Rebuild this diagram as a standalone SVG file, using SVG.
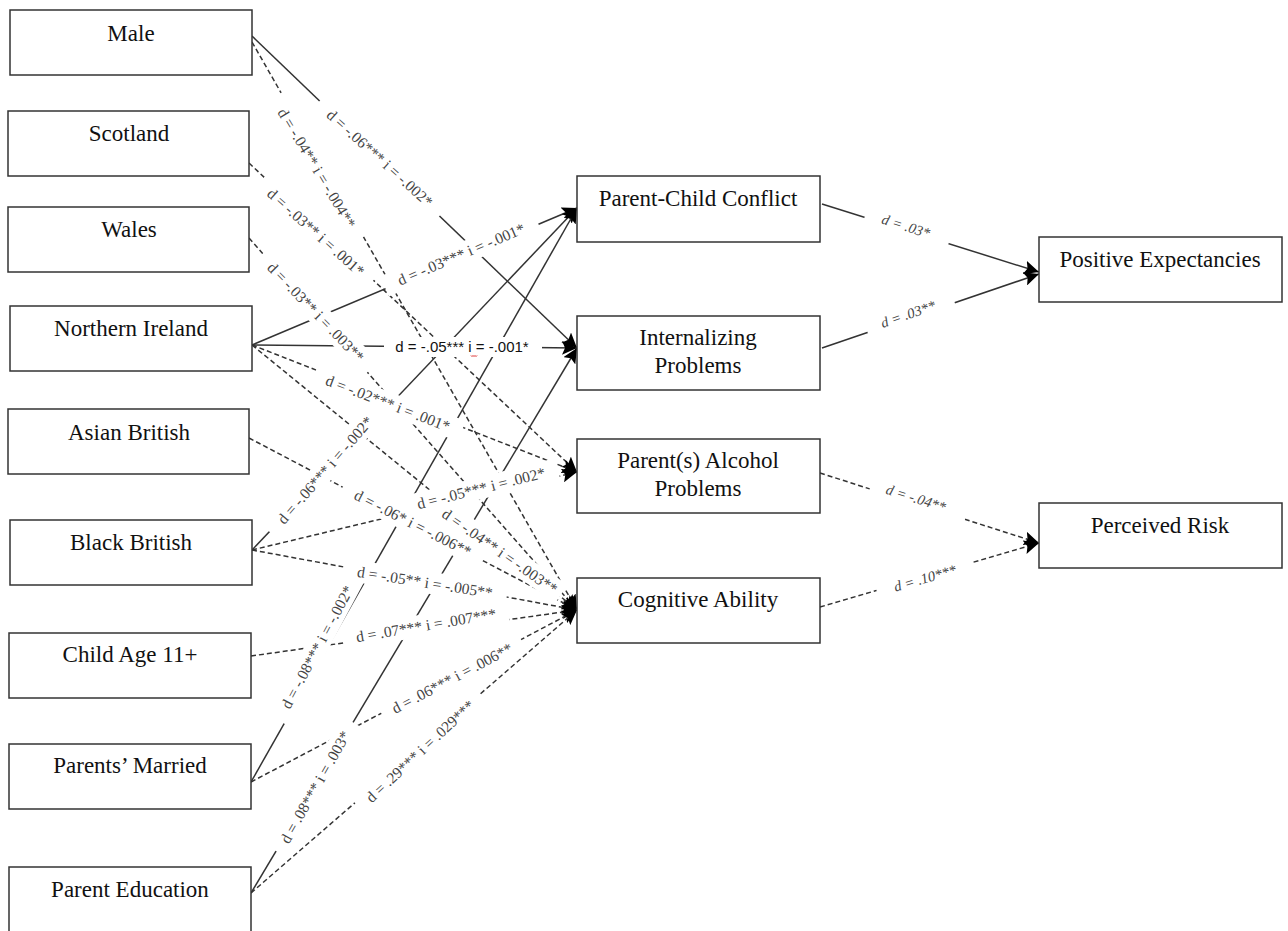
<svg xmlns="http://www.w3.org/2000/svg" width="1288" height="931" viewBox="0 0 1288 931">
<style>
.box{fill:#fff;stroke:#333;stroke-width:1.5}
.nt{font-family:"Liberation Serif","Times New Roman",serif;font-size:23px;fill:#111;text-anchor:middle}
.ln{fill:none;stroke:#333;stroke-width:1.5}
.ds{stroke-dasharray:5 3}
.ar{marker-end:url(#ah)}
.bg{fill:#fff;stroke:none}
.lb{font-family:"Liberation Serif","Times New Roman",serif;font-size:15.5px;fill:#444;text-anchor:middle;dominant-baseline:central}
.lbi{font-style:italic;font-size:14.5px}
.lbs{font-family:"Liberation Sans",Arial,sans-serif;font-size:15px;fill:#111;text-anchor:middle}
</style>
<defs>
<marker id="ah" markerUnits="userSpaceOnUse" markerWidth="16" markerHeight="14" refX="15" refY="7" orient="auto">
<path d="M0,0 L15,7 L0,14 L3,7 z" fill="#000"/>
</marker>
</defs>
<rect width="1288" height="931" fill="#fff"/>

<g id="connectors">
<line class="ln ar" x1="252" y1="36" x2="577" y2="348"/>
<line class="ln ds ar" x1="252" y1="42" x2="577" y2="610"/>
<line class="ln ds ar" x1="249" y1="163" x2="577" y2="472"/>
<line class="ln ds ar" x1="249" y1="238" x2="577" y2="610"/>
<line class="ln ar" x1="252" y1="345" x2="577" y2="208"/>
<line class="ln ar" x1="252" y1="345" x2="577" y2="348"/>
<line class="ln ds ar" x1="252" y1="345" x2="577" y2="472"/>
<line class="ln ds ar" x1="252" y1="345" x2="577" y2="610"/>
<line class="ln ds ar" x1="249" y1="438" x2="577" y2="610"/>
<line class="ln ar" x1="252" y1="550" x2="577" y2="208"/>
<line class="ln ds ar" x1="252" y1="550" x2="577" y2="472"/>
<line class="ln ds ar" x1="252" y1="550" x2="577" y2="610"/>
<line class="ln ds ar" x1="251" y1="656" x2="577" y2="610"/>
<line class="ln ar" x1="251" y1="782" x2="577" y2="208"/>
<line class="ln ds ar" x1="251" y1="782" x2="577" y2="610"/>
<line class="ln ar" x1="251" y1="893" x2="577" y2="348"/>
<line class="ln ds ar" x1="251" y1="893" x2="577" y2="610"/>
<line class="ln ar" x1="822" y1="204" x2="1039" y2="272"/>
<line class="ln ar" x1="822" y1="348" x2="1039" y2="274"/>
<line class="ln ds ar" x1="820" y1="473" x2="1039" y2="543"/>
<line class="ln ds ar" x1="820" y1="607" x2="1039" y2="543"/>
</g>

<g id="label-backgrounds">
<rect class="bg" x="-83" y="-11" width="166" height="22" transform="translate(380,158) rotate(42)"/>
<rect class="bg" x="-83" y="-11" width="166" height="22" transform="translate(317,168) rotate(59)"/>
<rect class="bg" x="-75" y="-11" width="150" height="22" transform="translate(316,232) rotate(41.5)"/>
<rect class="bg" x="-79" y="-11" width="158" height="22" transform="translate(316,312) rotate(46)"/>
<rect class="bg" x="-83" y="-11" width="166" height="22" transform="translate(461,254) rotate(-23)"/>
<rect class="bg" x="384" y="337" width="158" height="20"/>
<rect class="bg" x="-79" y="-11" width="158" height="22" transform="translate(388,403) rotate(21)"/>
<rect class="bg" x="-83" y="-11" width="166" height="22" transform="translate(325,470) rotate(-49)"/>
<rect class="bg" x="-79" y="-11" width="158" height="22" transform="translate(413,523) rotate(27)"/>
<rect class="bg" x="-79" y="-11" width="158" height="22" transform="translate(481,488) rotate(-14)"/>
<rect class="bg" x="-75" y="-11" width="150" height="22" transform="translate(500,551) rotate(35)"/>
<rect class="bg" x="-83" y="-11" width="166" height="22" transform="translate(425,582) rotate(9)"/>
<rect class="bg" x="-83" y="-11" width="166" height="22" transform="translate(426,625) rotate(-9.5)"/>
<rect class="bg" x="-83" y="-11" width="166" height="22" transform="translate(317,647) rotate(-62)"/>
<rect class="bg" x="-79" y="-11" width="158" height="22" transform="translate(452,678) rotate(-27.7)"/>
<rect class="bg" x="-75" y="-11" width="150" height="22" transform="translate(315,787) rotate(-60.5)"/>
<rect class="bg" x="-83" y="-11" width="166" height="22" transform="translate(420,751) rotate(-43)"/>
<rect class="bg" x="-44" y="-11" width="88" height="22" transform="translate(907,229) rotate(17.5)"/>
<rect class="bg" x="-46" y="-11" width="92" height="22" transform="translate(911,317) rotate(-19)"/>
<rect class="bg" x="-50" y="-11" width="100" height="22" transform="translate(918,502) rotate(17.7)"/>
<rect class="bg" x="-50" y="-11" width="100" height="22" transform="translate(925,578) rotate(-16)"/>
</g>

<g id="labels">
<text class="lb" transform="translate(380,158) rotate(42)">d = -.06*** i = -.002*</text>
<text class="lb" transform="translate(317,168) rotate(59)">d = -.04** i = -.004**</text>
<text class="lb" transform="translate(316,232) rotate(41.5)">d = -.03** i = .001*</text>
<text class="lb" transform="translate(316,312) rotate(46)">d = -.03** i = .003**</text>
<text class="lb" transform="translate(461,254) rotate(-23)">d = -.03*** i = -.001*</text>
<text class="lbs" x="462" y="352">d = -.05*** i = -.001*</text>
<path d="M471,355.5 q1,2 2,0 q1,2 2,0 q1,2 2,0" fill="none" stroke="#d22" stroke-width="1"/>
<text class="lb" transform="translate(388,403) rotate(21)">d = -.02*** i = .001*</text>
<text class="lb" transform="translate(325,470) rotate(-49)">d = -.06*** i = -.002*</text>
<text class="lb" transform="translate(413,523) rotate(27)">d = -.06* i = -.006**</text>
<text class="lb" transform="translate(481,488) rotate(-14)">d = -.05*** i = .002*</text>
<text class="lb" transform="translate(500,551) rotate(35)">d = -.04** i = -.003**</text>
<text class="lb" transform="translate(425,582) rotate(9)">d = -.05** i = -.005**</text>
<text class="lb" transform="translate(426,625) rotate(-9.5)">d = .07*** i = .007***</text>
<text class="lb" transform="translate(317,647) rotate(-62)">d = -.08*** i = -.002*</text>
<text class="lb" transform="translate(452,678) rotate(-27.7)">d = .06*** i = .006**</text>
<text class="lb" transform="translate(315,787) rotate(-60.5)">d = .08*** i = .003*</text>
<text class="lb" transform="translate(420,751) rotate(-43)">d = .29*** i = .029***</text>
<text class="lb lbi" transform="translate(906,226) rotate(17.5)">d = .03*</text>
<text class="lb lbi" transform="translate(908,314) rotate(-19)">d = .03**</text>
<text class="lb lbi" transform="translate(916,498) rotate(17.7)">d = -.04**</text>
<text class="lb lbi" transform="translate(925,578) rotate(-16)">d = .10***</text>
</g>

<g id="male"><rect class="box" x="10" y="10" width="242" height="65"/><text class="nt" x="131" y="41">Male</text></g>
<g id="scotland"><rect class="box" x="8" y="111" width="241" height="65"/><text class="nt" x="129" y="141">Scotland</text></g>
<g id="wales"><rect class="box" x="8" y="207" width="241" height="65"/><text class="nt" x="129" y="237">Wales</text></g>
<g id="northern-ireland"><rect class="box" x="10" y="306" width="242" height="65"/><text class="nt" x="131" y="336">Northern Ireland</text></g>
<g id="asian-british"><rect class="box" x="8" y="409" width="241" height="65"/><text class="nt" x="129" y="440">Asian British</text></g>
<g id="black-british"><rect class="box" x="10" y="520" width="242" height="65"/><text class="nt" x="131" y="550">Black British</text></g>
<g id="child-age"><rect class="box" x="9" y="633" width="242" height="65"/><text class="nt" x="130" y="662">Child Age 11+</text></g>
<g id="parents-married"><rect class="box" x="9" y="744" width="242" height="65"/><text class="nt" x="130" y="773">Parents’ Married</text></g>
<g id="parent-education"><rect class="box" x="9" y="867" width="242" height="80"/><text class="nt" x="130" y="897">Parent Education</text></g>

<g id="parent-child-conflict"><rect class="box" x="577" y="176" width="243" height="66"/><text class="nt" x="698" y="206">Parent-Child Conflict</text></g>
<g id="internalizing-problems"><rect class="box" x="577" y="316" width="243" height="74"/><text class="nt" x="698" y="345">Internalizing</text><text class="nt" x="698" y="373">Problems</text></g>
<g id="parent-alcohol-problems"><rect class="box" x="577" y="439" width="243" height="74"/><text class="nt" x="698" y="468">Parent(s) Alcohol</text><text class="nt" x="698" y="496">Problems</text></g>
<g id="cognitive-ability"><rect class="box" x="577" y="578" width="243" height="65"/><text class="nt" x="698" y="607">Cognitive Ability</text></g>

<g id="positive-expectancies"><rect class="box" x="1039" y="237" width="243" height="65"/><text class="nt" x="1160" y="267">Positive Expectancies</text></g>
<g id="perceived-risk"><rect class="box" x="1039" y="503" width="243" height="65"/><text class="nt" x="1160" y="533">Perceived Risk</text></g>
</svg>
